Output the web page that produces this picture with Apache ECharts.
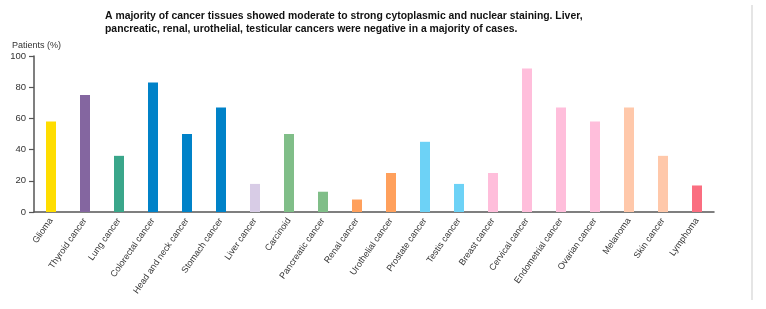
<!DOCTYPE html>
<html>
<head>
<meta charset="utf-8">
<style>
  html, body { margin: 0; padding: 0; background: #fff; }
  #chart { width: 766px; height: 309px; }
</style>
<script src="https://cdn.jsdelivr.net/npm/echarts@6/dist/echarts.min.js"></script>
</head>
<body>
<div id="chart"></div>
<script>
// categories and values (patients %)
const categories = [
  'Glioma', 'Thyroid cancer', 'Lung cancer', 'Colorectal cancer', 'Head and neck cancer',
  'Stomach cancer', 'Liver cancer', 'Carcinoid', 'Pancreatic cancer', 'Renal cancer',
  'Urothelial cancer', 'Prostate cancer', 'Testis cancer', 'Breast cancer', 'Cervical cancer',
  'Endometrial cancer', 'Ovarian cancer', 'Melanoma', 'Skin cancer', 'Lymphoma'
]
const patients = [58, 75, 36, 83, 50, 67, 18, 50, 13, 8, 25, 45, 18, 25, 92, 67, 58, 67, 36, 17]
const yTicks = [0, 20, 40, 60, 80, 100]

// one colour per tissue group
const barColors = [
  '#ffdd00', '#8466a0', '#3aa68a', '#0082c8', '#0082c8',
  '#0082c8', '#d8cce6', '#80be88', '#80be88', '#ffa05c',
  '#ffa05c', '#6dd2f6', '#6dd2f6', '#ffbedb', '#ffbedb',
  '#ffbedb', '#ffbedb', '#ffc8aa', '#ffc8aa', '#fa6e80'
]

const chart = echarts.init(document.getElementById('chart'))
const axisColor = '#555'
const font = 'Liberation Sans, Arial, sans-serif'

chart.setOption({
  animation: false,
  title: {
    text: 'A majority of cancer tissues showed moderate to strong cytoplasmic and nuclear staining. Liver,\npancreatic, renal, urothelial, testicular cancers were negative in a majority of cases.',
    left: 100,
    top: 5,
    textStyle: {
      fontFamily: font,
      fontSize: 10.4,
      fontWeight: 'bold',
      color: '#111',
      lineHeight: 13
    }
  },
  grid: { left: 34, right: 52, top: 56, bottom: 97, containLabel: false },
  xAxis: {
    type: 'category',
    data: categories,
    axisLine: { lineStyle: { color: axisColor, width: 1.5 } },
    axisTick: { alignWithLabel: true, length: 4, lineStyle: { color: axisColor } },
    axisLabel: {
      rotate: 55,
      interval: 0,
      margin: 7,
      fontSize: 9,
      color: '#333',
      fontFamily: font
    }
  },
  yAxis: {
    type: 'value',
    min: yTicks[0],
    max: yTicks[yTicks.length - 1],
    interval: yTicks[1] - yTicks[0],
    name: 'Patients (%)',
    nameLocation: 'end',
    nameGap: 6,
    nameTextStyle: {
      fontSize: 9,
      color: '#333',
      align: 'left',
      padding: [0, 0, 0, -22],
      fontFamily: font
    },
    axisLine: { show: true, lineStyle: { color: axisColor, width: 1.5 } },
    axisTick: { show: true, length: 5, lineStyle: { color: axisColor, width: 1.2 } },
    splitLine: { show: false },
    axisLabel: {
      fontSize: 9.5,
      color: '#333',
      margin: 8,
      fontFamily: font
    }
  },
  series: [{
    type: 'bar',
    barWidth: 10,
    data: patients.map((v, i) => ({
      value: v,
      itemStyle: { color: barColors[i] }
    }))
  }],
  graphic: [{
    type: 'line',
    shape: { x1: 752, y1: 5, x2: 752, y2: 300 },
    style: { stroke: '#dcdcdc', lineWidth: 1.5 }
  }]
})
</script>
</body>
</html>
